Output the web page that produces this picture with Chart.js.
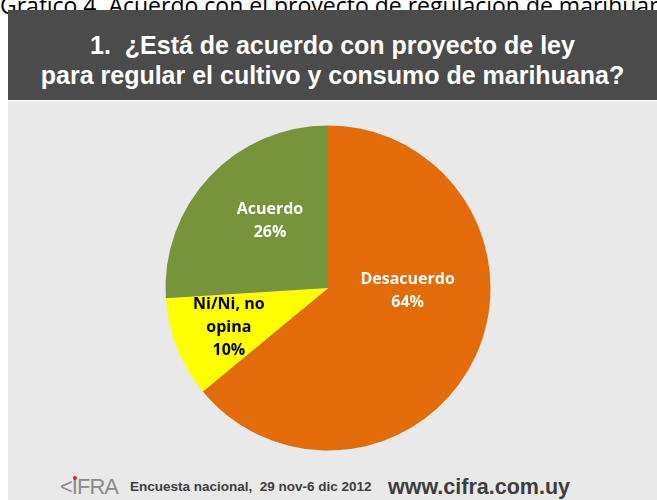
<!DOCTYPE html>
<html>
<head>
<meta charset="utf-8">
<script src="https://cdn.jsdelivr.net/npm/chart.js@4"></script>
<style>
  html, body { margin: 0; padding: 0; background: #fff; }
  body { width: 657px; height: 500px; position: relative; overflow: hidden; }
  #caption {
    position: absolute; left: 0; top: -11px; white-space: nowrap;
    font-family: "Open Sans", sans-serif; font-size: 23px; color: #000;
  }
  #header {
    position: absolute; left: 8px; top: 10px; width: 649px; height: 90px;
    background: #4b4b4b; color: #fff; text-align: center;
    font-family: "Liberation Sans", Arial, sans-serif; font-weight: bold;
    font-size: 25px; line-height: 30px;
  }
  #header div:first-child { padding-top: 20px; }
  #panel {
    position: absolute; left: 8px; top: 101px; width: 649px; height: 399px;
    background: #e9e9e9;
  }
  #pie { position: absolute; left: 158px; top: 117.5px; }
  #footer {
    position: absolute; left: 0; top: 474px; width: 657px; height: 26px;
    font-family: "Liberation Sans", Arial, sans-serif; font-weight: bold; color: #3d3d3d;
  }
  #logo {
    position: absolute; left: 60px; top: 0; font-family: "Liberation Sans Narrow", "Liberation Sans", sans-serif;
    font-size: 22px; color: #8a8a8a; letter-spacing: -1px; font-weight: normal;
  }
  #logo i { position: absolute; left: 13px; top: 2px; width: 4px; height: 4px; border-radius: 2px; background: #d2202f; }
  #survey { position: absolute; left: 130px; top: 5px; font-size: 13.5px; }
  #web { position: absolute; left: 388px; top: 1px; font-size: 21.5px; }
</style>
</head>
<body>
<div id="caption">Gráfico 4. Acuerdo con el proyecto de regulación de marihuana</div>
<div id="header">
  <div>1.&nbsp; ¿Está de acuerdo con proyecto de ley</div>
  <div>para regular el cultivo y consumo de marihuana?</div>
</div>
<div id="panel"></div>
<canvas id="pie" width="340" height="340"></canvas>
<div id="footer">
  <span id="logo">&lt;IFRA<i></i></span>
  <span id="survey">Encuesta nacional,&nbsp; 29 nov-6 dic 2012</span>
  <span id="web">www.cifra.com.uy</span>
</div>

<script>
const labels = ['Desacuerdo', 'Ni/Ni, no opina', 'Acuerdo'];
const values = [64, 10, 26];
const colors = ['#e36c0a', '#ffff00', '#77933c'];

// text lines inside each slice
const sliceText = [['Desacuerdo'], ['Ni/Ni, no', 'opina'], ['Acuerdo']];
const textColors = ['#ffffff', '#000000', '#ffffff'];
// where each label sits, as offsets from the centre in units of the radius
const textOffsets = [[0.49, 0.015], [-0.61, 0.243], [-0.357, -0.41]];

const sliceLabels = {
  id: 'sliceLabels',
  afterDatasetsDraw(chart) {
    const ctx = chart.ctx;
    const meta = chart.getDatasetMeta(0);
    ctx.save();
    ctx.font = 'bold 16px "Open Sans", sans-serif';
    ctx.textAlign = 'center';
    ctx.textBaseline = 'middle';
    meta.data.forEach((arc, i) => {
      const r = arc.outerRadius;
      const cx = arc.x + textOffsets[i][0] * r;
      const cy = arc.y + textOffsets[i][1] * r;
      const lines = sliceText[i].concat([values[i] + '%']);
      const lh = 23;
      const top = cy - (lines.length - 1) * lh / 2;
      ctx.fillStyle = textColors[i];
      lines.forEach((t, k) => ctx.fillText(t, cx, top + k * lh));
    });
    ctx.restore();
  }
};

new Chart(document.getElementById('pie'), {
  type: 'pie',
  data: {
    labels: labels,
    datasets: [{
      data: values,
      backgroundColor: colors,
      borderWidth: 0
    }]
  },
  options: {
    responsive: false,
    animation: false,
    layout: { padding: 7.5 },
    plugins: {
      legend: { display: false },
      tooltip: { enabled: false }
    }
  },
  plugins: [sliceLabels]
});
</script>
</body>
</html>
